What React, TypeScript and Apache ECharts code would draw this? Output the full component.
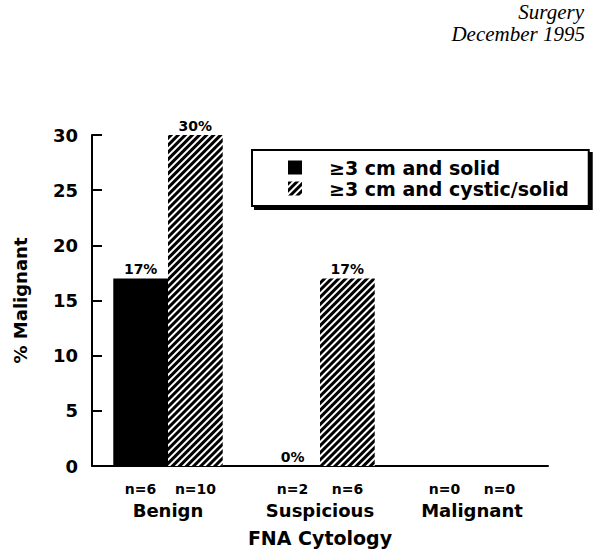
import React, { useEffect, useRef } from "react";
import * as echarts from "echarts";

const categories = ["Benign", "Suspicious", "Malignant"];
const solidValues: (number | null)[] = [17, 0, null];
const cysticValues: (number | null)[] = [30, 17, null];
const solidN = [6, 2, 0];
const cysticN = [10, 6, 0];
const seriesNames = ["≥3 cm and solid", "≥3 cm and cystic/solid"];
const yTicks = { min: 0, max: 30, interval: 5 };

const FONT = "'DejaVu Sans', sans-serif";

export default function App() {
  const ref = useRef<HTMLDivElement>(null);
  useEffect(() => {
    if (!ref.current) return;
    const chart = echarts.init(ref.current, undefined, { renderer: "svg" });
    const hatch = {
      symbol: "rect",
      symbolSize: 1,
      dashArrayX: [1, 0],
      dashArrayY: [2.2, 1.8],
      rotation: -Math.PI / 4,
      color: "#000",
      backgroundColor: "#fff",
    };
    const barLabel = {
      show: true,
      position: "top",
      distance: 2,
      formatter: "{c}%",
      fontFamily: FONT,
      fontWeight: "bold",
      fontSize: 14,
      color: "#000",
    };
    chart.setOption({
      animation: false,
      textStyle: { fontFamily: FONT },
      graphic: [
        {
          type: "text",
          right: 22,
          top: 1,
          style: {
            text: "Surgery",
            font: "italic 21px 'Liberation Serif', serif",
            fill: "#000",
            textAlign: "right",
          },
        },
        {
          type: "text",
          right: 21,
          top: 23,
          style: {
            text: "December 1995",
            font: "italic 21px 'Liberation Serif', serif",
            fill: "#000",
            textAlign: "right",
          },
        },
      ],
      legend: {
        orient: "vertical",
        left: 252,
        top: 150,
        icon: "rect",
        itemWidth: 14,
        itemHeight: 14,
        itemGap: 0,
        padding: [7, 20, 7, 36],
        borderColor: "#000",
        borderWidth: 2,
        backgroundColor: "#fff",
        shadowColor: "#000",
        shadowBlur: 0,
        shadowOffsetX: 3,
        shadowOffsetY: 3,
        textStyle: {
          fontFamily: FONT,
          fontWeight: "bold",
          fontSize: 19,
          lineHeight: 21,
          color: "#000",
          padding: [0, 0, 0, 22],
        },
        data: seriesNames,
      },
      grid: { left: 92, right: 58, top: 135, bottom: 86 },
      xAxis: {
        type: "category",
        data: categories,
        name: "FNA Cytology",
        nameLocation: "middle",
        nameGap: 62,
        nameTextStyle: { fontFamily: FONT, fontWeight: "bold", fontSize: 19, color: "#000" },
        axisLine: { lineStyle: { color: "#000", width: 2 } },
        axisTick: { show: false },
        axisLabel: {
          interval: 0,
          margin: 12,
          formatter: (v: string, i: number) =>
            `{n|n=${solidN[i]}}{n|n=${cysticN[i]}}\n{c|${v}}`,
          rich: {
            n: { width: 55, align: "center", fontFamily: FONT, fontWeight: "bold", fontSize: 14, color: "#000", lineHeight: 21 },
            c: { fontFamily: FONT, fontWeight: "bold", fontSize: 18, color: "#000", lineHeight: 23 },
          },
        },
      },
      yAxis: {
        type: "value",
        min: yTicks.min,
        max: yTicks.max,
        interval: yTicks.interval,
        name: "% Malignant",
        nameLocation: "middle",
        nameGap: 63,
        nameRotate: 90,
        nameTextStyle: { fontFamily: FONT, fontWeight: "bold", fontSize: 18, color: "#000" },
        axisLine: { show: true, lineStyle: { color: "#000", width: 2 } },
        axisTick: { show: true, inside: true, length: 10, lineStyle: { color: "#000", width: 2 } },
        splitLine: { show: false },
        axisLabel: { fontFamily: FONT, fontWeight: "bold", fontSize: 18, color: "#000", margin: 14 },
      },
      series: [
        {
          name: seriesNames[0],
          type: "bar",
          data: solidValues,
          barGap: "0%",
          barCategoryGap: "28%",
          itemStyle: { color: "#000" },
          label: barLabel,
        },
        {
          name: seriesNames[1],
          type: "bar",
          data: cysticValues,
          barGap: "0%",
          barCategoryGap: "28%",
          itemStyle: { color: "#fff", decal: hatch },
          label: barLabel,
        },
      ],
    });
    return () => chart.dispose();
  }, []);
  return (
    <div
      ref={ref}
      style={{ position: "fixed", left: 0, top: 0, width: 606, height: 552, background: "#fff" }}
    />
  );
}
